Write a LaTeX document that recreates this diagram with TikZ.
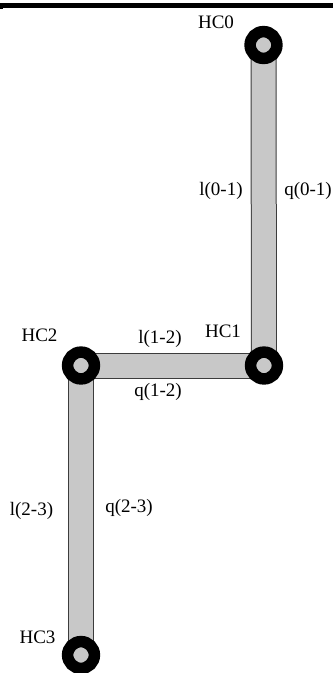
\documentclass[tikz,border=0pt]{standalone}
\usepackage{fontspec}
\setmainfont{Liberation Serif}
\usetikzlibrary{backgrounds}
\definecolor{pipegray}{RGB}{200,200,200}
\definecolor{pipeedge}{RGB}{60,60,60}
\tikzset{
  ring/.style={circle, draw=black, line width=11.5pt, fill=pipegray, minimum size=26.8pt, inner sep=0pt},
  pipe/.style={draw=pipeedge, line width=1pt, double=pipegray, double distance=24pt},
  lbl/.style={inner sep=0pt, font=\fontsize{19}{22}\selectfont}
}
\begin{document}
\begin{tikzpicture}[x=1pt, y=-1pt]
\useasboundingbox (0,0) rectangle (333,673);
\fill[black] (0,3) rectangle (333,7.5);
\fill[black] (0,6) rectangle (3,8.5);
\node[ring] (HC0) at (263.5,45) {};
\node[ring] (HC1) at (264,365.5) {};
\node[ring] (HC2) at (81,365.5) {};
\node[ring] (HC3) at (81,655) {};
\begin{scope}[on background layer]
\fill[white] (0,0) rectangle (333,673);
\draw[pipe] (HC0.center) -- (HC1.center);
\draw[pipe] (HC1.center) -- (HC2.center);
\draw[pipe] (HC2.center) -- (HC3.center);
\end{scope}
\node[lbl] (tHC0) at (216,22) {HC0};
\node[lbl] (tHC1) at (223,331) {HC1};
\node[lbl] (tHC2) at (39.5,335) {HC2};
\node[lbl] (tHC3) at (37.5,637) {HC3};
\node[lbl] (l01) at (221,191) {l(0-1)};
\node[lbl] (q01) at (308,191) {q(0-1)};
\node[lbl] (l12) at (160,339) {l(1-2)};
\node[lbl] (q12) at (158,392) {q(1-2)};
\node[lbl] (l23) at (31.5,511) {l(2-3)};
\node[lbl] (q23) at (129,508) {q(2-3)};
\end{tikzpicture}
\end{document}
